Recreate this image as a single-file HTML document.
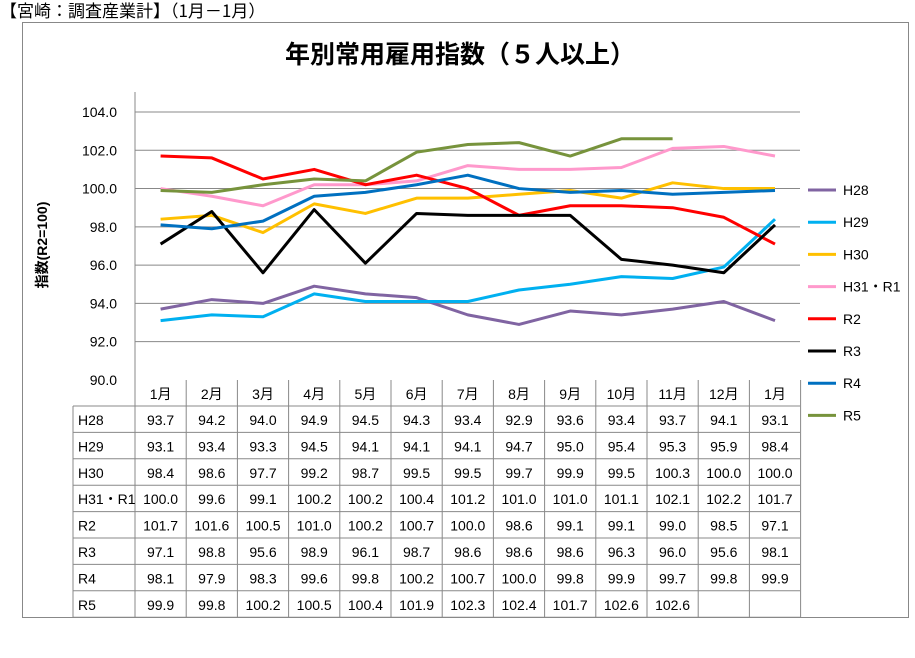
<!DOCTYPE html>
<html><head><meta charset="utf-8"><style>
body{margin:0;background:#fff;width:915px;height:653px;overflow:hidden;font-family:"Liberation Sans","Noto Sans CJK JP",sans-serif}
</style></head><body>
<svg id="s" width="915" height="653" xmlns="http://www.w3.org/2000/svg" font-family="Liberation Sans, Noto Sans CJK JP, sans-serif"></svg>
<script>
const s=document.getElementById('s');
let h='';
h+='<text x="0" y="17" font-size="17" fill="#000" font-family="Noto Sans CJK JP, sans-serif">【宮崎：調査産業計】（1月－1月）</text>';
h+='<rect x="22.5" y="22.5" width="886" height="595" fill="none" stroke="#888" stroke-width="1"/>';
h+='<text x="460" y="63" font-size="25" font-weight="bold" text-anchor="middle" fill="#000" font-family="Noto Sans CJK JP, sans-serif">年別常用雇用指数（５人以上）</text>';
const X0=135,CW=51.2,Y=v=>112+(104-v)*19.14;
for(let v=92;v<=104;v+=2){h+=`<line x1="${X0}" x2="800" y1="${Y(v)}" y2="${Y(v)}" stroke="#888"/>`;}
for(let v=90;v<=104;v+=2){h+=`<text x="117" y="${Y(v)+5}" font-size="14" text-anchor="end">${v.toFixed(1)}</text>`;}
h+=`<line x1="${X0}" x2="${X0}" y1="92" y2="380" stroke="#888"/>`;
h+='<text transform="translate(47,245) rotate(-90)" font-size="14" font-weight="bold" text-anchor="middle">指数(R2=100)</text>';
const months=['1月','2月','3月','4月','5月','6月','7月','8月','9月','10月','11月','12月','1月'];
const S=[
['H28','#8064a2',[93.7,94.2,94.0,94.9,94.5,94.3,93.4,92.9,93.6,93.4,93.7,94.1,93.1]],
['H29','#00b0f0',[93.1,93.4,93.3,94.5,94.1,94.1,94.1,94.7,95.0,95.4,95.3,95.9,98.4]],
['H30','#ffc000',[98.4,98.6,97.7,99.2,98.7,99.5,99.5,99.7,99.9,99.5,100.3,100.0,100.0]],
['H31・R1','#ff99cc',[100.0,99.6,99.1,100.2,100.2,100.4,101.2,101.0,101.0,101.1,102.1,102.2,101.7]],
['R2','#ff0000',[101.7,101.6,100.5,101.0,100.2,100.7,100.0,98.6,99.1,99.1,99.0,98.5,97.1]],
['R3','#000000',[97.1,98.8,95.6,98.9,96.1,98.7,98.6,98.6,98.6,96.3,96.0,95.6,98.1]],
['R4','#0070c0',[98.1,97.9,98.3,99.6,99.8,100.2,100.7,100.0,99.8,99.9,99.7,99.8,99.9]],
['R5','#77933c',[99.9,99.8,100.2,100.5,100.4,101.9,102.3,102.4,101.7,102.6,102.6]]];
S.forEach((r,k)=>{
 const pts=r[2].map((v,i)=>`${X0+CW*(i+0.5)},${Y(v)}`).join(' ');
 h+=`<polyline points="${pts}" fill="none" stroke="${r[1]}" stroke-width="3" stroke-linejoin="round"/>`;
 const ly=190+k*32.2;
 h+=`<line x1="808" x2="836" y1="${ly}" y2="${ly}" stroke="${r[1]}" stroke-width="3"/>`;
 h+=`<text x="843" y="${ly+5}" font-size="14">${r[0]}</text>`;
});
const TL=73,RH=26.4;
h+=`<line x1="${TL}" x2="800" y1="406" y2="406" stroke="#888"/>`;
for(let i=0;i<=13;i++){const x=X0+CW*i;h+=`<line x1="${x}" x2="${x}" y1="380" y2="617" stroke="#888"/>`;}
h+=`<line x1="${TL}" x2="${TL}" y1="406" y2="617" stroke="#888"/>`;
months.forEach((m,i)=>{h+=`<text x="${X0+CW*(i+0.5)}" y="399" font-size="14" text-anchor="middle">${m}</text>`;});
S.forEach((r,k)=>{
 const y0=406+k*RH;
 h+=`<line x1="${TL}" x2="800" y1="${y0+RH}" y2="${y0+RH}" stroke="#888"/>`;
 h+=`<text x="78" y="${y0+19}" font-size="14">${r[0]}</text>`;
 r[2].forEach((v,i)=>{h+=`<text x="${X0+CW*(i+0.5)}" y="${y0+19}" font-size="14" text-anchor="middle">${v.toFixed(1)}</text>`;});
});
s.innerHTML=h;
</script>
</body></html>
